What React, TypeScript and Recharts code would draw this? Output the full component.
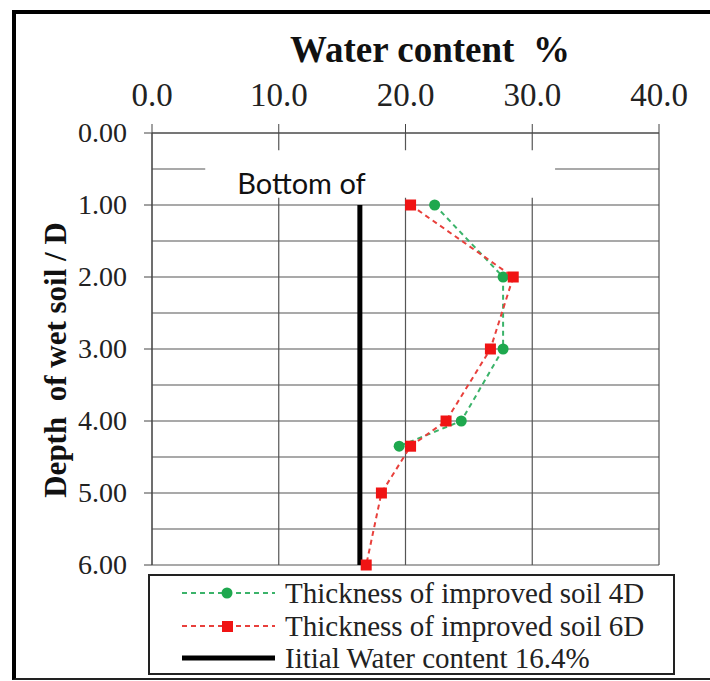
import React from 'react';
import {
  ScatterChart, Scatter, XAxis, YAxis, CartesianGrid, ReferenceArea,
} from 'recharts';

// Water content (%), against depth of wet soil / D
const depth4D = [1, 2, 3, 4, 4.35];
const water4D = [22.3, 27.7, 27.7, 24.4, 19.5];
const depth6D = [1, 2, 3, 4, 4.35, 5, 6];
const water6D = [20.4, 28.5, 26.7, 23.2, 20.4, 18.1, 16.9];
const initialDepths = [1, 6];
const initialWater = 16.4;

const xTicks = [0, 10, 20, 30, 40];
const yTicks = [0, 1, 2, 3, 4, 5, 6];
const gridDepths = [0, 0.5, 1, 1.5, 2, 2.5, 3, 3.5, 4, 4.5, 5, 5.5, 6];

const GREEN = '#1ea84e';
const GREEN_LINE = '#3bb36a';
const RED = '#f01414';
const RED_LINE = '#e8403c';
const SERIF = '"Liberation Serif", "Times New Roman", serif';

const toPoints = (xs: number[], ys: number[]) => xs.map((x, i) => ({ water: x, depth: ys[i] }));

const data4D = toPoints(water4D, depth4D);
const data6D = toPoints(water6D, depth6D);
const dataInitial = initialDepths.map((d) => ({ water: initialWater, depth: d }));

const legendItems = [
  { label: 'Thickness of improved soil 4D', color: GREEN, line: GREEN_LINE, marker: 'circle', dashed: true },
  { label: 'Thickness of improved soil 6D', color: RED, line: RED_LINE, marker: 'square', dashed: true },
  { label: 'Iitial Water content 16.4%', color: '#000', line: '#000', marker: 'none', dashed: false },
];

function XTick({ x, y, payload }: any) {
  return (
    <text x={x} y={y} textAnchor="middle" fontSize={33} fontFamily={SERIF} fill="#222">
      {Number(payload.value).toFixed(1)}
    </text>
  );
}

function YTick({ x, y, payload }: any) {
  return (
    <text x={x} y={y} dy={9} textAnchor="end" fontSize={28} fontFamily={SERIF} fill="#222">
      {Number(payload.value).toFixed(2)}
    </text>
  );
}

// the white text box that hides part of the grid in the original
function BoxLabel({ viewBox }: any) {
  if (!viewBox) return null;
  return (
    <text x={viewBox.x + 32} y={viewBox.y + 44} fontSize={29} fontFamily="Lato, 'Noto Sans', sans-serif" fill="#111">
      Bottom of
    </text>
  );
}

const dot = (color: string) => (p: any) => <circle cx={p.cx} cy={p.cy} r={5.5} fill={color} />;
const square = (color: string) => (p: any) => (
  <rect x={p.cx - 5.5} y={p.cy - 5.5} width={11} height={11} fill={color} />
);
const noShape = () => <g />;

function LegendBox() {
  return (
    <div
      style={{
        position: 'absolute', left: 148, top: 574, width: 527, height: 101,
        boxSizing: 'border-box', border: '2px solid #222', background: '#fff',
      }}
    >
      {legendItems.map((it, i) => (
        <div key={i} style={{ position: 'absolute', left: 0, top: 1 + i * 32.5, height: 32, width: '100%' }}>
          <svg width={100} height={32} style={{ position: 'absolute', left: 30, top: 0 }}>
            <line
              x1={2} x2={95} y1={16} y2={16}
              stroke={it.line}
              strokeWidth={it.dashed ? 2 : 5}
              strokeDasharray={it.dashed ? '5 4' : undefined}
            />
            {it.marker === 'circle' && <circle cx={47} cy={16} r={5.5} fill={it.color} />}
            {it.marker === 'square' && <rect x={42} y={11} width={11} height={11} fill={it.color} />}
          </svg>
          <span
            style={{
              position: 'absolute', left: 135, top: 0, fontFamily: SERIF, fontSize: 29,
              lineHeight: '32px', color: '#222', whiteSpace: 'nowrap',
            }}
          >
            {it.label}
          </span>
        </div>
      ))}
    </div>
  );
}

export default function App() {
  return (
    <div style={{ position: 'absolute', left: 0, top: 0, width: 710, height: 681, overflow: 'hidden', background: '#fff' }}>
      <div
        style={{
          position: 'absolute', left: 12, top: 10, width: 740, height: 670, boxSizing: 'border-box',
          borderLeft: '4px solid #000', borderTop: '4px solid #000', borderBottom: '2px solid #222',
        }}
      />
      <div style={{ position: 'absolute', left: 0, top: 0 }}>
        <ScatterChart width={710} height={681} margin={{ top: 93, right: 51, bottom: 116, left: 92 }}>
          <CartesianGrid stroke="#555" strokeWidth={1.2} horizontalValues={gridDepths} />
          <ReferenceArea x1={4.2} x2={31.8} y1={0.24} y2={0.9} fill="#fff" fillOpacity={1} stroke="none" label={<BoxLabel />} />
          <XAxis
            type="number"
            dataKey="water"
            orientation="top"
            domain={[0, 40]}
            ticks={xTicks}
            height={40}
            tickSize={9}
            tickMargin={18}
            stroke="#444"
            tick={<XTick />}
          />
          <YAxis
            type="number"
            dataKey="depth"
            reversed
            domain={[0, 6]}
            ticks={yTicks}
            width={60}
            tickSize={8}
            tickMargin={17}
            stroke="#444"
            tick={<YTick />}
          />
          <Scatter
            data={dataInitial}
            isAnimationActive={false}
            line={{ stroke: '#000', strokeWidth: 5 }}
            shape={noShape}
          />
          <Scatter
            data={data4D}
            isAnimationActive={false}
            fill={GREEN}
            line={{ stroke: GREEN_LINE, strokeWidth: 2, strokeDasharray: '5 4' }}
            shape={dot(GREEN)}
          />
          <Scatter
            data={data6D}
            isAnimationActive={false}
            fill={RED}
            line={{ stroke: RED_LINE, strokeWidth: 2, strokeDasharray: '5 4' }}
            shape={square(RED)}
          />
        </ScatterChart>
      </div>
      <div
        style={{
          position: 'absolute', left: 430, top: 32, transform: 'translateX(-50%)', fontFamily: SERIF,
          fontWeight: 'bold', fontSize: 37, lineHeight: '36px', color: '#111', whiteSpace: 'pre',
        }}
      >
        {'Water content  %'}
      </div>
      <svg width={100} height={681} style={{ position: 'absolute', left: 0, top: 0 }}>
        <text
          x={66}
          y={360}
          transform="rotate(-90, 66, 360)"
          textAnchor="middle"
          fontFamily={SERIF}
          fontWeight="bold"
          fontSize={31}
          fill="#111"
          style={{ whiteSpace: 'pre' }}
        >
          {'Depth  of wet soil / D'}
        </text>
      </svg>
      <LegendBox />
    </div>
  );
}
